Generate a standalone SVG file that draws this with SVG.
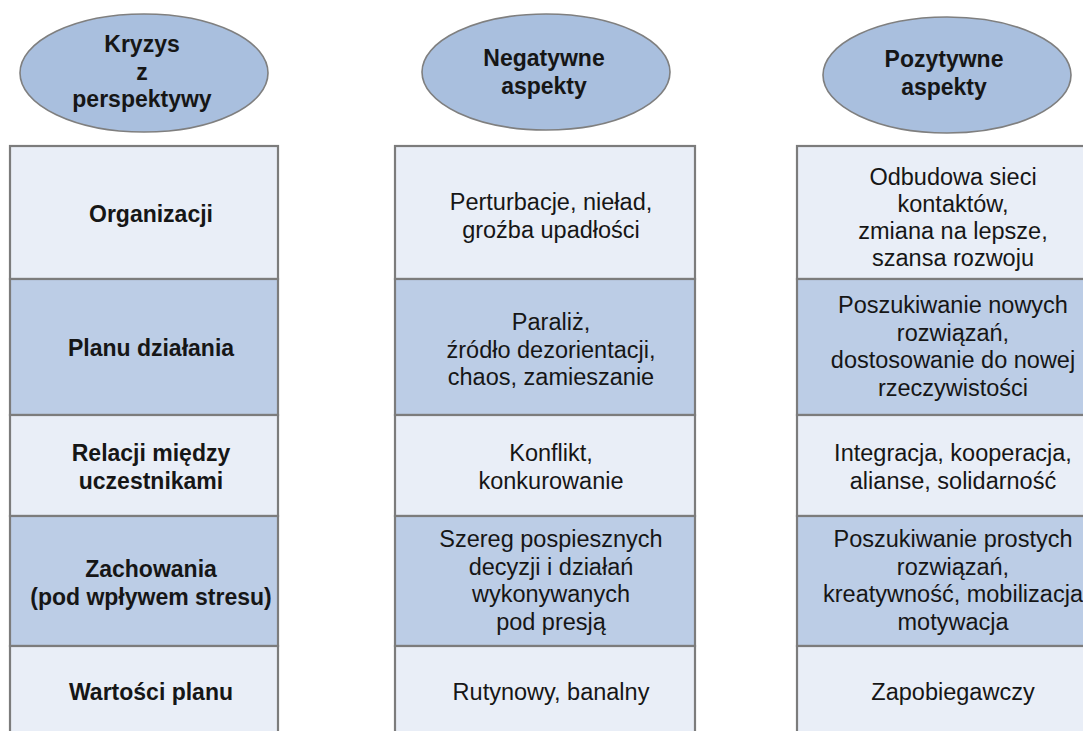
<svg xmlns="http://www.w3.org/2000/svg" width="1083" height="731" viewBox="0 0 1083 731">
  <style>
    .head { fill: #a9bfde; stroke: #7f7f7f; stroke-width: 1.6; }
    .light { fill: #e9eef7; stroke: #7c7c7c; stroke-width: 2.2; }
    .dark { fill: #bccde6; stroke: #7c7c7c; stroke-width: 2.2; }
    text { font-family: "Liberation Sans", Arial, sans-serif; fill: #161616; text-anchor: middle; }
    .b { font-weight: bold; font-size: 23px; }
    .r { font-size: 23.5px; }
  </style>

  <!-- column headers -->
  <g id="header-perspective">
    <ellipse class="head" cx="144" cy="73" rx="124" ry="59"/>
    <text class="b"><tspan x="142" y="52">Kryzys</tspan><tspan x="142" y="79.5">z</tspan><tspan x="142" y="107">perspektywy</tspan></text>
  </g>
  <g id="header-negative">
    <ellipse class="head" cx="546" cy="72" rx="124" ry="58"/>
    <text class="b"><tspan x="544" y="66">Negatywne</tspan><tspan x="544" y="93.5">aspekty</tspan></text>
  </g>
  <g id="header-positive">
    <ellipse class="head" cx="947" cy="75" rx="124" ry="58"/>
    <text class="b"><tspan x="944" y="67">Pozytywne</tspan><tspan x="944" y="94.5">aspekty</tspan></text>
  </g>

  <!-- column 1: perspectives -->
  <g id="col-perspective">
    <rect class="light" x="10" y="146" width="268" height="133"/>
    <rect class="dark" x="10" y="279" width="268" height="136"/>
    <rect class="light" x="10" y="415" width="268" height="101"/>
    <rect class="dark" x="10" y="516" width="268" height="130"/>
    <rect class="light" x="10" y="646" width="268" height="100"/>
    <text class="b" x="151" y="221.5">Organizacji</text>
    <text class="b" x="151" y="356">Planu działania</text>
    <text class="b"><tspan x="151" y="461">Relacji między</tspan><tspan x="151" y="489">uczestnikami</tspan></text>
    <text class="b"><tspan x="151" y="577">Zachowania</tspan><tspan x="151" y="605">(pod wpływem stresu)</tspan></text>
    <text class="b" x="151" y="700">Wartości planu</text>
  </g>

  <!-- column 2: negative aspects -->
  <g id="col-negative">
    <rect class="light" x="395" y="146" width="300" height="133"/>
    <rect class="dark" x="395" y="279" width="300" height="136"/>
    <rect class="light" x="395" y="415" width="300" height="101"/>
    <rect class="dark" x="395" y="516" width="300" height="130"/>
    <rect class="light" x="395" y="646" width="300" height="100"/>
    <text class="r"><tspan x="551" y="210">Perturbacje, nieład,</tspan><tspan x="551" y="237.5">groźba upadłości</tspan></text>
    <text class="r"><tspan x="551" y="330">Paraliż,</tspan><tspan x="551" y="357.5">źródło dezorientacji,</tspan><tspan x="551" y="385">chaos, zamieszanie</tspan></text>
    <text class="r"><tspan x="551" y="461">Konflikt,</tspan><tspan x="551" y="489">konkurowanie</tspan></text>
    <text class="r"><tspan x="551" y="547">Szereg pospiesznych</tspan><tspan x="551" y="574.5">decyzji i działań</tspan><tspan x="551" y="602">wykonywanych</tspan><tspan x="551" y="629.5">pod presją</tspan></text>
    <text class="r" x="551" y="700">Rutynowy, banalny</text>
  </g>

  <!-- column 3: positive aspects -->
  <g id="col-positive">
    <rect class="light" x="797" y="146" width="312" height="133"/>
    <rect class="dark" x="797" y="279" width="312" height="136"/>
    <rect class="light" x="797" y="415" width="312" height="101"/>
    <rect class="dark" x="797" y="516" width="312" height="130"/>
    <rect class="light" x="797" y="646" width="312" height="100"/>
    <text class="r"><tspan x="953" y="185">Odbudowa sieci</tspan><tspan x="953" y="212">kontaktów,</tspan><tspan x="953" y="239">zmiana na lepsze,</tspan><tspan x="953" y="266">szansa rozwoju</tspan></text>
    <text class="r"><tspan x="953" y="313">Poszukiwanie nowych</tspan><tspan x="953" y="341">rozwiązań,</tspan><tspan x="953" y="368">dostosowanie do nowej</tspan><tspan x="953" y="396">rzeczywistości</tspan></text>
    <text class="r"><tspan x="953" y="461">Integracja, kooperacja,</tspan><tspan x="953" y="489">alianse, solidarność</tspan></text>
    <text class="r"><tspan x="953" y="547">Poszukiwanie prostych</tspan><tspan x="953" y="574.5">rozwiązań,</tspan><tspan x="953" y="602">kreatywność, mobilizacja</tspan><tspan x="953" y="629.5">motywacja</tspan></text>
    <text class="r" x="953" y="700">Zapobiegawczy</text>
  </g>

  <!-- no connectors in this chart -->
  <g id="connectors"/>
</svg>
